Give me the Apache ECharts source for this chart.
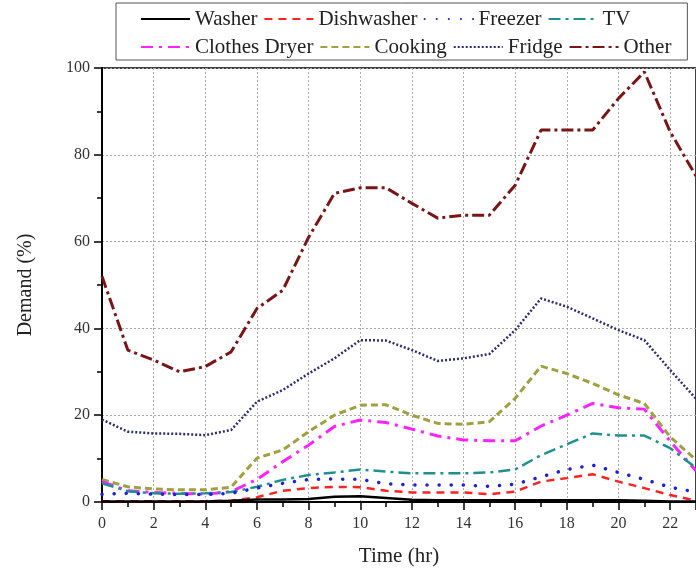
<!DOCTYPE html>
<html>
<head>
<meta charset="utf-8">
<script src="https://cdn.jsdelivr.net/npm/echarts@6/dist/echarts.min.js"></script>
<style>
html,body{margin:0;padding:0;background:#fff;}
#chart{width:696px;height:574px;}
</style>
</head>
<body>
<div id="chart"></div>
<script>
const hours = [0,1,2,3,4,5,6,7,8,9,10,11,12,13,14,15,16,17,18,19,20,21,22,23];
const seriesNames = ['Washer','Dishwasher','Freezer','TV','Clothes Dryer','Cooking','Fridge','Other'];
const washer = [0.1,0.1,0.1,0.1,0.1,0.3,0.6,0.6,0.7,1.2,1.3,0.9,0.5,0.4,0.4,0.4,0.4,0.4,0.4,0.4,0.4,0.3,0.1,0.1];
const dishwasher = [0.2,0.2,0.2,0.2,0.2,0.3,1.1,2.6,3.2,3.5,3.4,2.6,2.2,2.2,2.2,1.8,2.4,4.7,5.5,6.4,4.7,3.2,1.6,0.3];
const freezer = [1.8,2.0,1.8,1.7,1.7,2.0,3.2,4.3,5.2,5.3,5.2,4.2,3.9,3.9,3.9,3.6,4.1,5.8,7.5,8.5,6.8,5.2,3.4,2.3];
const tv = [4.3,2.5,2.0,1.9,2.0,2.3,3.5,5.1,6.2,6.8,7.5,7.0,6.6,6.6,6.6,6.8,7.5,10.8,13.3,15.8,15.3,15.3,12.4,7.9];
const clothesDryer = [4.7,2.6,2.2,2.0,1.8,2.4,5.2,9.3,13.1,17.4,18.9,18.3,16.8,15.2,14.3,14.1,14.1,17.5,20.0,22.7,21.7,21.4,14.0,7.2];
const cooking = [5.2,3.5,3.0,2.8,2.8,3.4,10.1,12.0,16.2,20.0,22.3,22.4,20.0,18.1,17.9,18.5,23.9,31.3,29.6,27.3,24.7,22.7,15.0,9.7];
const fridge = [19.0,16.2,15.8,15.7,15.4,16.6,23.1,25.8,29.6,33.1,37.3,37.2,35.0,32.5,33.1,34.1,39.6,46.9,45.0,42.3,39.6,37.3,30.4,23.8];
const other = [52,35,32.7,30.0,31.2,34.6,44.6,48.8,61,71.1,72.4,72.4,68.8,65.4,66.1,66.1,73.0,85.7,85.7,85.7,93.0,99.1,85.3,75.1];

const values = [washer, dishwasher, freezer, tv, clothesDryer, cooking, fridge, other];
const styles = [
  {color:'#000000', width:2.5, type:'solid'},
  {color:'#ff2222', width:2.5, type:[8,6]},
  {color:'#1f1fe0', width:3.5, type:[0.1,12], cap:'round'},
  {color:'#1f9090', width:2.5, type:[12,5,3,5]},
  {color:'#ff22ff', width:3, type:[12,6,3,6]},
  {color:'#a0a040', width:3, type:[7,4]},
  {color:'#2d2d75', width:2.5, type:[2,2]},
  {color:'#7a1515', width:3, type:[12,4,3,4]}
];

const FONT = 'Liberation Serif';
const chart = echarts.init(document.getElementById('chart'), null, {renderer:'canvas'});
chart.setOption({
  animation:false,
  backgroundColor:'#ffffff',
  textStyle:{fontFamily:FONT},
  legend:{
    left:116, top:3, width:545,
    orient:'horizontal',
    padding:[5,16,2,24],
    itemWidth:49, itemHeight:14, itemGap:6,
    borderColor:'#555', borderWidth:1,
    itemStyle:{opacity:0},
    textStyle:{fontFamily:FONT, fontSize:21, color:'#222', lineHeight:22},
    data:seriesNames
  },
  grid:{left:102, top:68, width:598, bottom:72, show:true, borderColor:'#000', borderWidth:1.5},
  xAxis:{
    type:'value', min:0, max:23, interval:2,
    name:'Time (hr)', nameLocation:'middle', nameGap:44,
    nameTextStyle:{fontFamily:FONT, fontSize:21, color:'#222'},
    axisLine:{lineStyle:{color:'#000', width:2}},
    axisTick:{inside:false, length:8, lineStyle:{color:'#000', width:1.5}},
    minorTick:{show:true, splitNumber:2, length:5, lineStyle:{color:'#000', width:1.5}},
    axisLabel:{fontFamily:FONT, fontSize:16, color:'#333', margin:14, showMaxLabel:false},
    splitLine:{show:true, lineStyle:{color:'#aaa', type:[2,2], width:1}}
  },
  yAxis:{
    type:'value', min:0, max:100, interval:20,
    name:'Demand (%)', nameLocation:'middle', nameGap:66,
    nameTextStyle:{fontFamily:FONT, fontSize:20, color:'#222'},
    axisLine:{lineStyle:{color:'#000', width:2}},
    axisTick:{inside:false, length:8, lineStyle:{color:'#000', width:1.5}},
    minorTick:{show:true, splitNumber:2, length:5, lineStyle:{color:'#000', width:1.5}},
    axisLabel:{fontFamily:FONT, fontSize:16, color:'#333', margin:12},
    splitLine:{show:true, lineStyle:{color:'#aaa', type:[2,2], width:1}}
  },
  series: seriesNames.map((n,i)=>({
    name:n, type:'line', symbol:'none', smooth:false,
    data: hours.map((h,k)=>[h, values[i][k]]),
    itemStyle:{color:styles[i].color},
    lineStyle:{color:styles[i].color, width:styles[i].width, type:styles[i].type, cap:styles[i].cap||'butt'},
    z: 10 - i
  }))
});
</script>
</body>
</html>
